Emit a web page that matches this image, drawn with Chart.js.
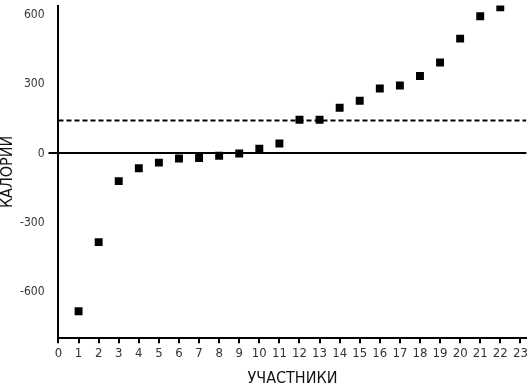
<!DOCTYPE html>
<html>
<head>
<meta charset="utf-8">
<script src="https://cdn.jsdelivr.net/npm/chart.js@4"></script>
<style>
  html, body { margin: 0; padding: 0; background: #fff; }
  #wrap { width: 532px; height: 388px; }
</style>
</head>
<body>
<div id="wrap"><canvas id="myChart"></canvas></div>
<script>
// participants 1..22 and their calorie values
const participants = [1, 2, 3, 4, 5, 6, 7, 8, 9, 10, 11, 12, 13, 14, 15, 16, 17, 18, 19, 20, 21, 22];
const calories = [-683, -384, -120, -64, -40, -22, -20, -10, 0, 20, 43, 146, 146, 198, 228, 281, 294, 335, 394, 497, 594, 633];
const referenceLevel = 143;
const xTickValues = [0, 1, 2, 3, 4, 5, 6, 7, 8, 9, 10, 11, 12, 13, 14, 15, 16, 17, 18, 19, 20, 21, 22, 23];
const yTickValues = [-600, -300, 0, 300, 600];

const fontFamily = "'DejaVu Sans Condensed', 'DejaVu Sans', sans-serif";
const xMax = 23.3;

const ctx = document.getElementById('myChart');
const points = participants.map(function (p, i) {
  return { x: p, y: calories[i] };
});

new Chart(ctx, {
  type: 'scatter',
  data: {
    datasets: [{
      label: 'Калории',
      data: points,
      pointStyle: 'rect',
      pointRadius: 5.6,
      borderWidth: 0,
      backgroundColor: '#000'
    }, {
      type: 'line',
      label: 'Уровень',
      data: [{ x: 0, y: referenceLevel }, { x: xMax, y: referenceLevel }],
      borderColor: '#000',
      borderWidth: 2,
      borderDash: [5, 3],
      pointRadius: 0
    }]
  },
  options: {
    responsive: true,
    maintainAspectRatio: false,
    animation: false,
    layout: { padding: 0 },
    plugins: {
      legend: { display: false },
      tooltip: { enabled: false }
    },
    scales: {
      x: {
        type: 'linear',
        position: 'bottom',
        min: 0,
        max: xMax,
        afterBuildTicks: function (axis) {
          axis.ticks = xTickValues.map(function (v) { return { value: v }; });
        },
        afterFit: function (scale) { scale.paddingRight = 3; },
        ticks: { autoSkip: false, maxRotation: 0, minRotation: 0, color: '#333', font: { family: fontFamily, size: 13 }, padding: 3 },
        grid: { drawOnChartArea: false, color: '#000', lineWidth: 2, tickLength: 5 },
        border: { color: '#000', width: 2 },
        title: { display: true, text: 'УЧАСТНИКИ', color: '#111', font: { family: fontFamily, size: 16 }, padding: { top: 4, bottom: 0 } }
      },
      y: {
        min: -800,
        max: 640,
        afterBuildTicks: function (axis) {
          axis.ticks = yTickValues.map(function (v) { return { value: v }; });
        },
        afterFit: function (scale) { scale.paddingTop = 5; },
        ticks: { color: '#333', font: { family: fontFamily, size: 12 }, padding: 4 },
        grid: {
          color: function (c) { return c.tick && c.tick.value === 0 ? '#000' : 'rgba(0,0,0,0)'; },
          lineWidth: 2,
          tickLength: 10
        },
        border: { color: '#000', width: 2 },
        title: { display: true, text: 'КАЛОРИИ', color: '#111', font: { family: fontFamily, size: 16, lineHeight: 1 }, padding: { top: 0, bottom: 0 } }
      }
    }
  }
});
</script>
</body>
</html>
